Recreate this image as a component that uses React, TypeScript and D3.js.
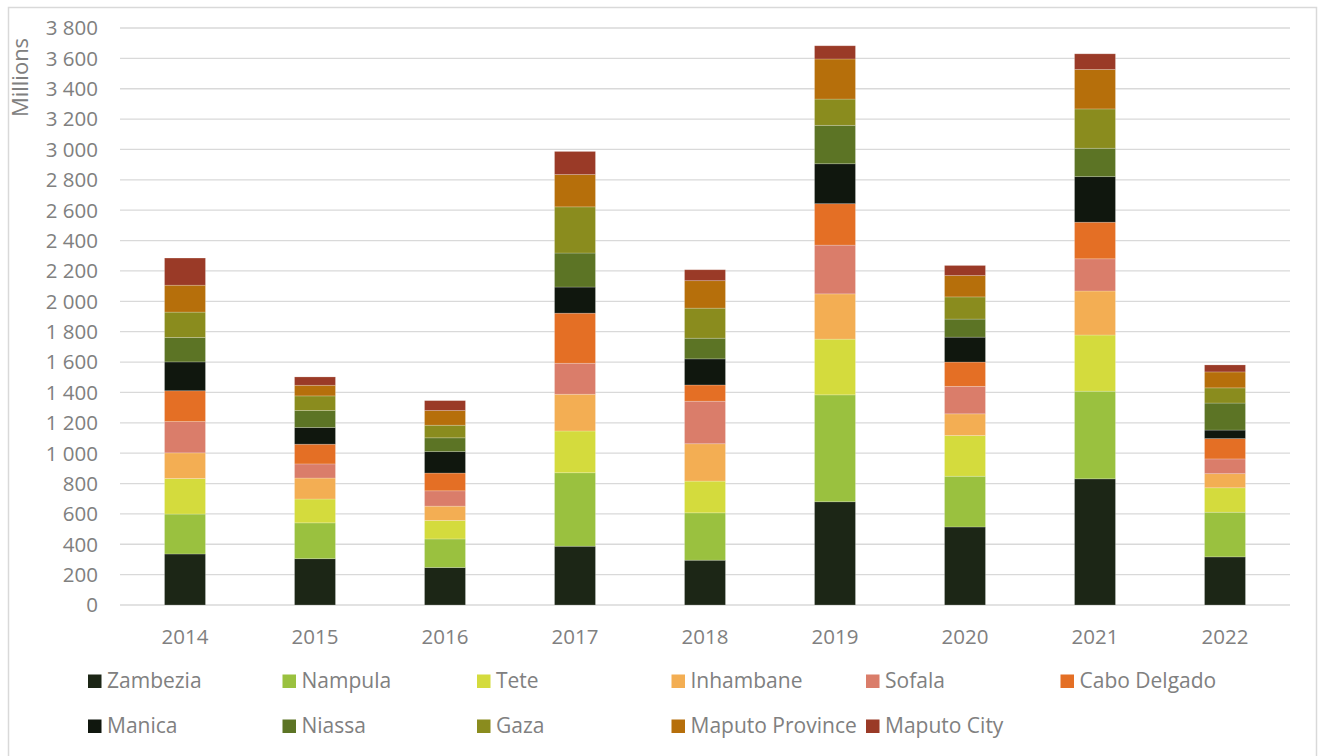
import React from "react";
import * as d3 from "d3";

// Annual values per province, in millions
const years = ["2014", "2015", "2016", "2017", "2018", "2019", "2020", "2021", "2022"];
const provinces = [
  "Zambezia", "Nampula", "Tete", "Inhambane", "Sofala", "Cabo Delgado",
  "Manica", "Niassa", "Gaza", "Maputo Province", "Maputo City",
];
const colors = [
  "#1c2616", "#9ac13f", "#d4db3d", "#f3ae53", "#da7d6a", "#e46f25",
  "#10170e", "#5c7425", "#8a8c1e", "#b66f0b", "#9a3a27",
];

const zambezia = [336, 305, 247, 387, 295, 680, 514, 831, 317];
const nampula = [263, 236, 188, 484, 312, 704, 334, 577, 294];
const tete = [234, 157, 122, 275, 209, 367, 268, 370, 161];
const inhambane = [169, 138, 94, 242, 246, 298, 143, 290, 93];
const sofala = [206, 93, 101, 204, 280, 321, 181, 212, 97];
const caboDelgado = [203, 130, 117, 330, 107, 273, 160, 241, 134];
const manica = [190, 110, 141, 172, 172, 263, 164, 300, 56];
const niassa = [161, 112, 91, 224, 136, 253, 119, 187, 178];
const gaza = [167, 96, 83, 304, 198, 173, 146, 259, 100];
const maputoProvince = [177, 70, 97, 213, 181, 264, 141, 260, 105];
const maputoCity = [179, 55, 65, 152, 72, 87, 66, 103, 46];

const yTicks = d3.range(0, 3801, 200);

const seriesValues = [
  zambezia, nampula, tete, inhambane, sofala, caboDelgado,
  manica, niassa, gaza, maputoProvince, maputoCity,
];

const rows = years.map((year, i) => {
  const row: Record<string, number | string> = { year };
  provinces.forEach((p, k) => (row[p] = seriesValues[k][i]));
  return row;
});

const W = 1318;
const H = 756;
const plot = { left: 120, right: 1290, top: 28, bottom: 605 };
const FONT = "'Open Sans', 'Liberation Sans', sans-serif";
const GRAY = "#808080";

const fmt = (v: number) => {
  const s = String(v);
  return s.length > 3 ? s.slice(0, s.length - 3) + " " + s.slice(-3) : s;
};

export default function App() {
  const x = d3.scaleBand<string>().domain(years).range([plot.left, plot.right]).paddingInner(0.685).paddingOuter(0.3425);
  const y = d3.scaleLinear().domain([0, 3800]).range([plot.bottom, plot.top]);
  const stacked = d3.stack<any>().keys(provinces)(rows as any);

  const legendCols = [88, 282.5, 477, 671.5, 866, 1060.5];
  const legendRows = [681, 726];

  return (
    <svg
      width={W}
      height={H}
      style={{ position: "absolute", left: 0, top: 0, background: "#fff" }}
      fontFamily={FONT}
    >
      <rect x={8.5} y={7.5} width={1308} height={760} fill="#fff" stroke="#d9d9d9" strokeWidth={1.5} />

      {yTicks.map((t) => (
        <g key={t}>
          <line x1={plot.left} x2={plot.right} y1={y(t)} y2={y(t)} stroke="#d9d9d9" strokeWidth={1.3} />
          <text x={98} y={y(t)} dy="0.36em" textAnchor="end" fontSize={20.5} fill={GRAY}>
            {fmt(t)}
          </text>
        </g>
      ))}

      <text
        transform={`translate(27.5, 77.5) rotate(-90)`}
        textAnchor="middle"
        fontSize={22}
        fill={GRAY}
      >
        Millions
      </text>

      {stacked.map((layer, k) => (
        <g key={provinces[k]} fill={colors[k]}>
          {layer.map((d, i) => (
            <rect
              key={years[i]}
              x={x(years[i])}
              y={y(d[1])}
              width={x.bandwidth()}
              height={y(d[0]) - y(d[1])}
              stroke="#ffffff"
              strokeOpacity={0.25}
              strokeWidth={0.8}
            />
          ))}
        </g>
      ))}

      {years.map((yr) => (
        <text
          key={yr}
          x={(x(yr) as number) + x.bandwidth() / 2}
          y={644}
          textAnchor="middle"
          fontSize={20.5}
          fill={GRAY}
        >
          {yr}
        </text>
      ))}

      {provinces.map((p, k) => {
        const col = k < 6 ? k : k - 6;
        const row = k < 6 ? 0 : 1;
        const lx = legendCols[col];
        const ly = legendRows[row];
        return (
          <g key={p}>
            <rect x={lx} y={ly - 6.5} width={13.5} height={13.5} fill={colors[k]} />
            <text x={lx + 19} y={ly + 7} fontSize={21} fill={GRAY}>
              {p}
            </text>
          </g>
        );
      })}
    </svg>
  );
}
